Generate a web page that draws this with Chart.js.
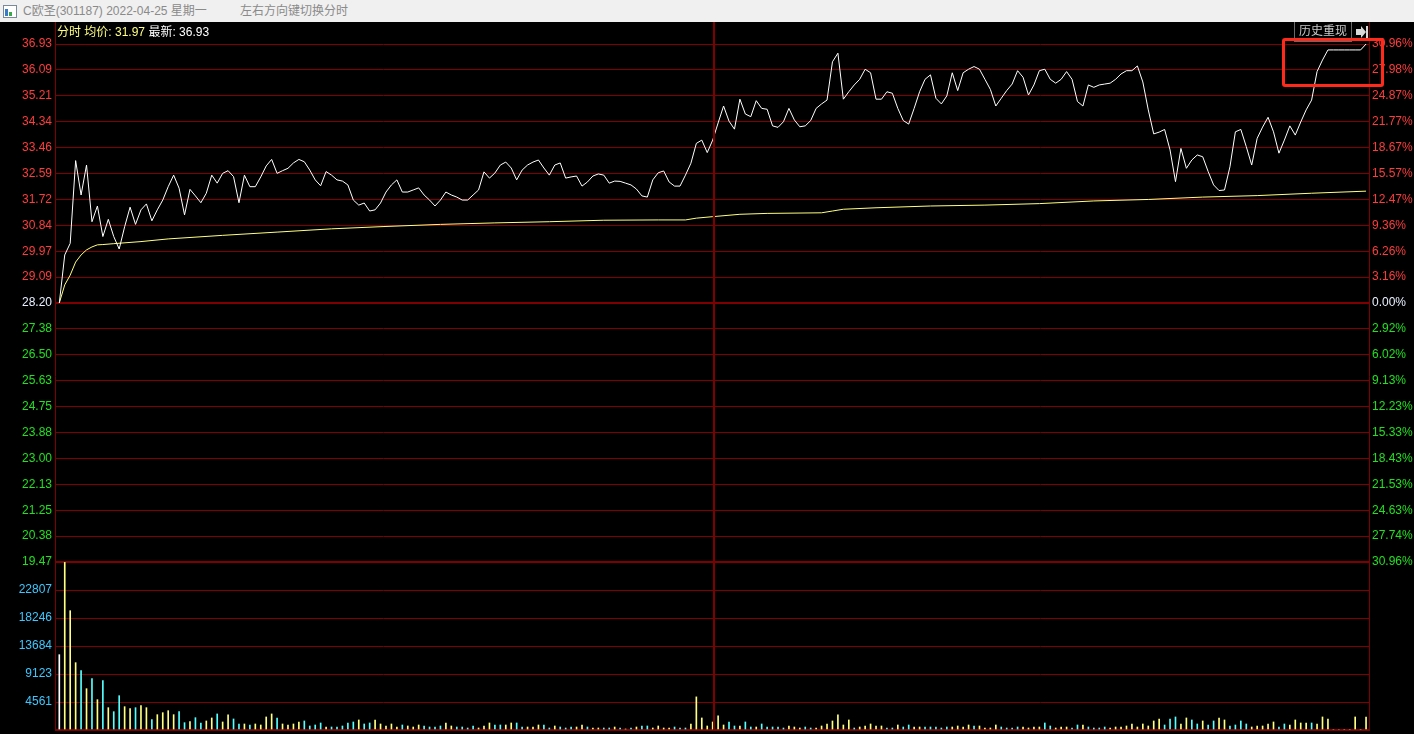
<!DOCTYPE html>
<html>
<head>
<meta charset="utf-8">
<script src="https://cdn.jsdelivr.net/npm/chart.js@4.4.0/dist/chart.umd.min.js"></script>
<style>
html, body { margin:0; padding:0; background:#000; width:1414px; height:734px; overflow:hidden;
  font-family: Arial, "Liberation Sans", "Noto Sans CJK SC", sans-serif; }
#titlebar { position:absolute; left:0; top:0; width:1414px; height:22px; background:#f0f0f0;
  color:#8a8a8a; font-size:12px; line-height:22px; }
#titlebar .icon { position:absolute; left:3px; top:5px; width:12px; height:11px; border:1px solid #7a8a99; background:#fff; }
#titlebar .icon i { position:absolute; bottom:1px; width:3px; background:#3a7bc8; }
#info { position:absolute; left:57px; top:24px; font-size:12px; line-height:16px; white-space:pre; }
#hist { position:absolute; left:1294px; top:22px; width:56px; height:19px; border-left:1px solid #6a6a6a;
  border-bottom:1px solid #6a6a6a; color:#c8c8c8; font-size:12px; line-height:19px; text-align:center; }
#histArrow { position:absolute; left:1351px; top:22px; width:18px; height:20px; border-left:1px solid #6a6a6a; }
#mark { position:absolute; left:1282px; top:38px; width:96px; height:43px; border:3px solid #ff2a1a; border-radius:3px; }
canvas { position:absolute; left:0; top:22px; }
</style>
</head>
<body>
<div id="titlebar"><div class="icon"><i style="left:1px;height:7px"></i><i style="left:5px;height:4px;background:#3aa84a"></i></div>
<span style="position:absolute;left:23px">C欧圣(301187) 2022-04-25 星期一</span>
<span style="position:absolute;left:240px">左右方向键切换分时</span></div>
<canvas id="chart" width="1414" height="712"></canvas>
<div id="info"><span style="color:#ffff80">分时 均价: 31.97</span> <span style="color:#ffffff">最新: 36.93</span></div>
<div id="hist">历史重现</div>
<div id="histArrow"><svg width="18" height="20"><polygon points="4,7 9,7 9,4 14,10 9,16 9,13 4,13" fill="#d8d8d8"/><rect x="14" y="4" width="2" height="12" fill="#d8d8d8"/></svg></div>
<div id="mark"></div>
<script>
// 分时 price, one value per minute (0 = 9:30 ... 240 = 15:00)
const price = [
  28.20, 29.82, 30.21, 33.00, 31.84, 32.85, 30.94, 31.47, 30.44, 31.02,
  30.44, 30.02, 30.77, 31.43, 30.85, 31.34, 31.54, 30.97, 31.34, 31.67,
  32.12, 32.51, 32.07, 31.17, 32.03, 31.81, 31.58, 31.90, 32.51, 32.24,
  32.57, 32.66, 32.46, 31.58, 32.51, 32.12, 32.12, 32.45, 32.82, 33.04,
  32.57, 32.66, 32.74, 32.92, 33.04, 32.96, 32.68, 32.35, 32.15, 32.63,
  32.51, 32.35, 32.31, 32.18, 31.67, 31.50, 31.57, 31.30, 31.34, 31.57,
  31.94, 32.18, 32.35, 31.94, 31.94, 32.01, 32.08, 31.84, 31.67, 31.47,
  31.67, 31.94, 31.84, 31.77, 31.67, 31.67, 31.84, 32.01, 32.62, 32.41,
  32.58, 32.85, 32.95, 32.75, 32.35, 32.68, 32.85, 32.95, 33.02, 32.75,
  32.51, 32.85, 32.92, 32.41, 32.45, 32.48, 32.14, 32.28, 32.48, 32.55,
  32.51, 32.24, 32.31, 32.30, 32.24, 32.18, 32.04, 31.81, 31.77, 32.35,
  32.59, 32.65, 32.28, 32.14, 32.14, 32.51, 32.91, 33.58, 33.69, 33.27,
  33.69, 34.27, 34.84, 34.33, 34.06, 35.07, 34.57, 34.48, 35.02, 34.76,
  34.73, 34.17, 34.12, 34.31, 34.76, 34.37, 34.14, 34.17, 34.35, 34.76,
  34.91, 35.04, 36.33, 36.62, 35.07, 35.32, 35.55, 35.74, 36.08, 35.96,
  35.07, 35.07, 35.32, 35.27, 34.76, 34.35, 34.23, 34.76, 35.32, 35.74,
  35.89, 35.10, 34.91, 35.18, 35.96, 35.36, 35.96, 36.08, 36.17, 36.08,
  35.74, 35.40, 34.84, 35.10, 35.36, 35.58, 36.03, 35.81, 35.21, 35.55,
  36.03, 36.08, 35.74, 35.61, 35.74, 36.00, 35.74, 34.99, 34.84, 35.55,
  35.47, 35.55, 35.58, 35.61, 35.74, 35.92, 36.03, 36.03, 36.19, 35.65,
  34.71, 33.90, 33.96, 34.05, 33.36, 32.29, 33.41, 32.74, 33.02, 33.19,
  33.13, 32.63, 32.18, 31.99, 32.01, 32.79, 33.97, 34.05, 33.47, 32.85,
  33.75, 34.13, 34.46, 33.97, 33.25, 33.69, 34.17, 33.86, 34.30, 34.71,
  35.04, 36.00, 36.39, 36.73, 36.73, 36.73, 36.73, 36.73, 36.73, 36.73,
  36.93
];

// 均价 line, read at these minutes
const avgMinutes = [0, 1, 2, 3, 4, 5, 6, 7, 8, 10, 15, 20, 30, 40, 50, 60, 70, 80, 90, 100,
  110, 115, 117, 120, 125, 130, 140, 142, 144, 150, 160, 170, 180, 190, 200, 210, 220, 230, 240];
const avgPrice = [28.20, 28.81, 29.14, 29.58, 29.82, 29.99, 30.09, 30.16, 30.17, 30.20, 30.27, 30.36,
  30.48, 30.59, 30.70, 30.78, 30.85, 30.90, 30.94, 30.99, 31.00, 31.00, 31.06, 31.11, 31.19, 31.22,
  31.24, 31.30, 31.36, 31.41, 31.47, 31.50, 31.55, 31.64, 31.69, 31.77, 31.82, 31.90, 31.97];

// volume per minute (shares / 100)
const volume = [
  12271, 27300, 19438, 10968, 9665, 6733, 8362, 4941, 8036, 3638,
  2986, 5593, 3801, 3475, 3638, 3964, 3638, 1683, 2498, 2823,
  3149, 2498, 2986, 1194, 1357, 2009, 1144, 1471, 1962, 2616,
  1308, 2452, 1798, 981, 981, 817, 981, 817, 2125, 2616,
  1962, 981, 817, 981, 1308, 1471, 654, 817, 1144, 490,
  490, 490, 654, 1144, 1308, 1635, 981, 1144, 1635, 981,
  654, 981, 490, 817, 654, 490, 817, 654, 490, 490,
  654, 1144, 654, 490, 490, 327, 654, 327, 654, 1144,
  817, 817, 817, 1144, 1144, 490, 490, 490, 817, 817,
  327, 654, 490, 327, 490, 490, 817, 490, 327, 327,
  327, 327, 490, 327, 163, 327, 490, 654, 654, 327,
  654, 327, 327, 490, 327, 327, 981, 5395, 1962, 654,
  1308, 2289, 817, 1308, 654, 654, 1308, 490, 490, 981,
  490, 490, 490, 327, 654, 490, 327, 490, 327, 327,
  654, 981, 1471, 2452, 817, 1635, 327, 490, 654, 981,
  654, 654, 327, 327, 817, 490, 817, 490, 490, 490,
  490, 490, 327, 490, 490, 654, 490, 817, 654, 654,
  327, 327, 817, 490, 327, 327, 490, 490, 327, 490,
  490, 1144, 654, 327, 490, 490, 327, 817, 817, 490,
  327, 327, 490, 327, 490, 490, 654, 981, 490, 981,
  654, 1471, 1798, 817, 1798, 2125, 981, 1962, 1635, 981,
  1471, 817, 1471, 1962, 1635, 654, 817, 1471, 981, 490,
  654, 654, 981, 1308, 490, 981, 817, 1635, 1144, 1144,
  1144, 981, 2125, 1798, 0, 0, 0, 0, 2125, 0,
  2125
];
// u = up tick, d = down tick, e = unchanged
const volumeDir = (
  'euuududud' + 'u' +
  'dduuduuduu' +
  'uuddudduud' +
  'uudduduuuu' +
  'duuuuddddu' +
  'dddddudduu' +
  'uuuduuuddd' +
  'duudddduuu' +
  'dduudduuud' +
  'duddduuduu' +
  'ddudududdu' +
  'uuuddduuuu' +
  'uuudduddud' +
  'dddduuuddu' +
  'uuuuuuduuu' +
  'uuddudduud' +
  'dddduuuudu' +
  'uuudddduuu' +
  'udduuuddud' +
  'ddduuuuuuu' +
  'uuuddduudd' +
  'udduuddddu' +
  'uuuudduuuu' +
  'duuuuuuuuu' +
  'uuuuueuu'
).split('');

const priceLabels = ['36.93', '36.09', '35.21', '34.34', '33.46', '32.59', '31.72', '30.84', '29.97', '29.09',
  '28.20', '27.38', '26.50', '25.63', '24.75', '23.88', '23.00', '22.13', '21.25', '20.38', '19.47'];
const pctLabels = ['30.96%', '27.98%', '24.87%', '21.77%', '18.67%', '15.57%', '12.47%', '9.36%', '6.26%', '3.16%',
  '0.00%', '2.92%', '6.02%', '9.13%', '12.23%', '15.33%', '18.43%', '21.53%', '24.63%', '27.74%', '30.96%'];
const volLabels = ['', '22807', '18246', '13684', '9123', '4561', ''];

const priceMin = 19.47, priceMax = 36.93, volMax = 27369;

const RED = '#ff3c3c', GREEN = '#20e020', ZERO = '#e8f0ff', GRID = '#800000';
const dirColor = { u: '#ffff80', d: '#54ffff', e: '#ffffff' };

function evenTicks(scale, min, max, n) {
  const t = [];
  for (let i = 0; i <= n; i++) t.push({ value: min + (max - min) * i / n });
  scale.ticks = t;
}
function sideColor(i) { return i > 10 ? RED : (i === 10 ? ZERO : GREEN); }
function fixWidth(w) {
  return s => { s.width = w; s.paddingTop = 0; s.paddingBottom = 0; };
}

const frameLines = {
  id: 'frameLines',
  afterDatasetsDraw(chart) {
    const { ctx, chartArea, scales } = chart;
    ctx.save();
    ctx.strokeStyle = GRID;
    ctx.lineWidth = 1;
    ctx.beginPath();
    ctx.moveTo(chartArea.left + 0.5, 0); ctx.lineTo(chartArea.left + 0.5, chartArea.bottom + 1);
    ctx.moveTo(chartArea.right + 0.5, 0); ctx.lineTo(chartArea.right + 0.5, chartArea.bottom + 1);
    ctx.stroke();
    const mx = Math.round(scales.x.getPixelForValue(120)) + 1;
    ctx.lineWidth = 2;
    ctx.beginPath();
    ctx.moveTo(mx, 0); ctx.lineTo(mx, chartArea.bottom);
    ctx.stroke();
    ctx.restore();
  }
};

Chart.defaults.font.family = 'Arial, "Liberation Sans", sans-serif';
Chart.defaults.font.size = 12;

new Chart(document.getElementById('chart').getContext('2d'), {
  data: {
    datasets: [
      {
        type: 'line', label: '分时',
        data: price.map((p, i) => ({ x: i, y: p })),
        yAxisID: 'y', borderColor: '#ffffff', borderWidth: 1, pointRadius: 0, tension: 0
      },
      {
        type: 'line', label: '均价',
        data: avgMinutes.map((m, i) => ({ x: m, y: avgPrice[i] })),
        yAxisID: 'y', borderColor: '#ffff80', borderWidth: 1, pointRadius: 0, tension: 0
      },
      {
        type: 'bar', label: '成交量',
        data: volume.map((v, i) => ({ x: i, y: v })),
        yAxisID: 'yv', backgroundColor: volumeDir.map(d => dirColor[d]),
        barThickness: 1, borderWidth: 0
      }
    ]
  },
  options: {
    responsive: false, animation: false, events: [],
    layout: { padding: { top: 22, bottom: 4, left: 0, right: 0 } },
    plugins: { legend: { display: false }, tooltip: { enabled: false } },
    scales: {
      x: { type: 'linear', min: -0.79, max: 240.54, offset: false, display: false },
      y: {
        position: 'left', stack: 'L', stackWeight: 518, weight: 2,
        min: priceMin, max: priceMax,
        afterBuildTicks: s => evenTicks(s, priceMin, priceMax, 20),
        afterFit: fixWidth(55),
        border: { display: false },
        grid: { color: GRID, drawTicks: false, lineWidth: c => (c.index === 10 || c.index === 0) ? 2 : 1 },
        ticks: { autoSkip: false, padding: 3, callback: (v, i) => priceLabels[20 - i], color: c => sideColor(c.index) }
      },
      yv: {
        position: 'left', stack: 'L', stackWeight: 168, weight: 1,
        min: 0, max: volMax,
        afterBuildTicks: s => evenTicks(s, 0, volMax, 6),
        afterFit: fixWidth(55),
        border: { display: false },
        grid: { color: GRID, drawTicks: false, lineWidth: c => c.index === 0 ? 2 : 1 },
        ticks: { autoSkip: false, padding: 3, callback: (v, i) => volLabels[6 - i], color: '#3cc8ff' }
      },
      yr: {
        position: 'right', stack: 'R', stackWeight: 518, weight: 1,
        min: priceMin, max: priceMax,
        afterBuildTicks: s => evenTicks(s, priceMin, priceMax, 20),
        afterFit: fixWidth(45),
        border: { display: false },
        grid: { display: false, drawTicks: false },
        ticks: { autoSkip: false, padding: 3, callback: (v, i) => pctLabels[20 - i], color: c => sideColor(c.index) }
      },
      yvr: {
        position: 'right', stack: 'R', stackWeight: 168, weight: 2,
        min: 0, max: volMax,
        afterFit: fixWidth(45),
        border: { display: false },
        grid: { display: false, drawTicks: false },
        ticks: { display: false }
      }
    }
  },
  plugins: [frameLines]
});
</script>
</body>
</html>
